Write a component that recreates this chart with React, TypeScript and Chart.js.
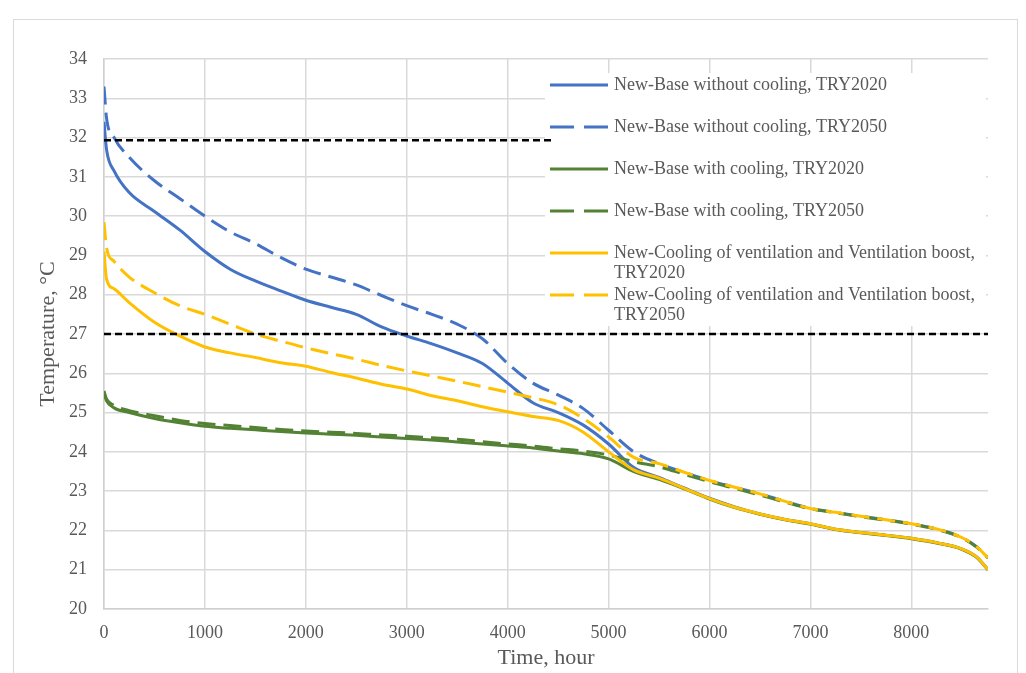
import React, { useEffect, useRef } from "react";
import { Chart, registerables } from "chart.js";

Chart.register(...registerables);

// ---- Data ----
const hours = [0, 25, 100, 250, 500, 750, 1000, 1250, 1500, 1750, 2000, 2250, 2500, 2750, 3000, 3250, 3500, 3750, 4000, 4250, 4500, 4750, 5000, 5250, 5500, 5750, 6000, 6250, 6500, 6750, 7000, 7250, 7500, 7750, 8000, 8250, 8500, 8650, 8760];

const baseNoCooling2020 = [32.4, 31.7, 31.15, 30.6, 30.12, 29.65, 29.1, 28.65, 28.35, 28.1, 27.86, 27.68, 27.5, 27.18, 26.95, 26.75, 26.52, 26.25, 25.75, 25.25, 25.0, 24.68, 24.2, 23.6, 23.35, 23.08, 22.82, 22.6, 22.42, 22.28, 22.17, 22.03, 21.95, 21.88, 21.8, 21.69, 21.53, 21.32, 21.0];
const baseNoCooling2050 = [33.3, 32.5, 32.0, 31.5, 30.9, 30.45, 30.0, 29.6, 29.3, 28.95, 28.65, 28.45, 28.25, 27.98, 27.72, 27.5, 27.25, 26.88, 26.25, 25.75, 25.45, 25.1, 24.55, 24.0, 23.7, 23.48, 23.27, 23.1, 22.93, 22.74, 22.56, 22.46, 22.36, 22.27, 22.17, 22.04, 21.82, 21.58, 21.3];
const baseCooling2020 = [25.5, 25.3, 25.12, 25.0, 24.85, 24.74, 24.65, 24.6, 24.56, 24.52, 24.48, 24.45, 24.42, 24.38, 24.34, 24.3, 24.25, 24.2, 24.15, 24.1, 24.02, 23.95, 23.82, 23.5, 23.3, 23.06, 22.8, 22.58, 22.41, 22.27, 22.16, 22.02, 21.94, 21.87, 21.79, 21.68, 21.52, 21.31, 21.0];
const baseCooling2050 = [25.55, 25.35, 25.18, 25.05, 24.92, 24.8, 24.72, 24.67, 24.62, 24.57, 24.53, 24.5, 24.47, 24.43, 24.4, 24.36, 24.32, 24.26, 24.2, 24.15, 24.08, 24.02, 23.92, 23.75, 23.62, 23.43, 23.24, 23.07, 22.9, 22.72, 22.55, 22.45, 22.35, 22.26, 22.16, 22.03, 21.81, 21.57, 21.3];
const ventBoost2020 = [29.1, 28.4, 28.15, 27.8, 27.3, 26.95, 26.67, 26.52, 26.4, 26.27, 26.18, 26.02, 25.88, 25.72, 25.6, 25.43, 25.3, 25.15, 25.02, 24.9, 24.8, 24.5, 24.0, 23.54, 23.33, 23.07, 22.81, 22.59, 22.42, 22.28, 22.17, 22.03, 21.95, 21.88, 21.8, 21.69, 21.53, 21.32, 21.0];
const ventBoost2050 = [29.85, 29.2, 28.85, 28.45, 28.05, 27.72, 27.5, 27.25, 27.0, 26.82, 26.65, 26.5, 26.36, 26.2, 26.06, 25.93, 25.8, 25.66, 25.52, 25.38, 25.2, 24.85, 24.38, 23.86, 23.7, 23.48, 23.27, 23.1, 22.93, 22.74, 22.56, 22.46, 22.36, 22.27, 22.17, 22.04, 21.82, 21.58, 21.3];

const limitHighHours = [0, 4450];
const limitHighTemp = [31.93, 31.93];
const limitLowHours = [0, 8760];
const limitLowTemp = [27, 27];

const seriesLabels = [
  "New-Base without cooling, TRY2020",
  "New-Base without cooling, TRY2050",
  "New-Base with cooling, TRY2020",
  "New-Base with cooling, TRY2050",
  "New-Cooling of ventilation and Ventilation boost, TRY2020",
  "New-Cooling of ventilation and Ventilation boost, TRY2050",
];

const xTicks = [0, 1000, 2000, 3000, 4000, 5000, 6000, 7000, 8000];
const yTicks = [20, 21, 22, 23, 24, 25, 26, 27, 28, 29, 30, 31, 32, 33, 34];
const xMin = 0;
const xMax = 8760;
const yMin = 20;
const yMax = 34;

const xTitle = "Time, hour";
const yTitle = "Temperature, °C";

// ---- Styles ----
const FONT = '"Liberation Serif", "Times New Roman", serif';
const TEXT = "#595959";
const GRID = "#d9d9d9";
const BLUE = "#4472C4";
const GREEN = "#548235";
const YELLOW = "#FFC000";
const DASH = [18, 8];
const LW = 3;

const toPoints = (xs: number[], ys: number[]) => xs.map((x, i) => ({ x, y: ys[i] }));

const seriesValues = [baseNoCooling2020, baseNoCooling2050, baseCooling2020, baseCooling2050, ventBoost2020, ventBoost2050];
const seriesColors = [BLUE, BLUE, GREEN, GREEN, YELLOW, YELLOW];
const seriesDashed = [false, true, false, true, false, true];
const seriesOrder = [4, 4, 3, 3, 2, 2];

const framePlugin = {
  id: "frame",
  beforeDraw(chart: any) {
    const ctx = chart.ctx;
    ctx.save();
    ctx.fillStyle = "#ffffff";
    ctx.fillRect(0, 0, chart.width, chart.height);
    ctx.strokeStyle = "#d9d9d9";
    ctx.lineWidth = 1;
    ctx.strokeRect(13.5, 19.5, 1004, 700);
    ctx.restore();
  },
};

const legendPlugin = {
  id: "customLegend",
  beforeDatasetsDraw(chart: any) {
    const ctx = chart.ctx;
    ctx.save();
    ctx.fillStyle = "#ffffff";
    ctx.fillRect(545, 73, 441, 253);
    ctx.font = `18px ${FONT}`;
    ctx.textBaseline = "middle";
    ctx.textAlign = "left";
    const maxW = 380;
    seriesLabels.forEach((label, i) => {
      const y = 85 + i * 42;
      ctx.strokeStyle = seriesColors[i];
      ctx.lineWidth = LW;
      ctx.setLineDash(seriesDashed[i] ? [24, 10] : []);
      ctx.beginPath();
      ctx.moveTo(550, y);
      ctx.lineTo(608, y);
      ctx.stroke();
      ctx.setLineDash([]);
      const words = label.split(" ");
      const lines: string[] = [];
      let cur = "";
      words.forEach((w) => {
        const test = cur ? cur + " " + w : w;
        if (ctx.measureText(test).width > maxW && cur) {
          lines.push(cur);
          cur = w;
        } else cur = test;
      });
      if (cur) lines.push(cur);
      ctx.fillStyle = TEXT;
      lines.forEach((ln, j) => ctx.fillText(ln, 614, y + j * 20));
    });
    ctx.restore();
  },
};

export default function App() {
  const ref = useRef<HTMLCanvasElement>(null);
  useEffect(() => {
    if (!ref.current) return;
    const datasets: any[] = seriesValues.map((vals, i) => ({
      label: seriesLabels[i],
      data: toPoints(hours, vals),
      borderColor: seriesColors[i],
      backgroundColor: seriesColors[i],
      borderWidth: LW,
      borderDash: seriesDashed[i] ? DASH : [],
      pointRadius: 0,
      cubicInterpolationMode: "monotone",
      fill: false,
      order: seriesOrder[i],
    }));
    datasets.push({
      label: "limit-high",
      data: toPoints(limitHighHours, limitHighTemp),
      borderColor: "#000",
      borderWidth: 2.5,
      borderDash: [7, 4],
      pointRadius: 0,
      fill: false,
      order: 0,
    });
    datasets.push({
      label: "limit-low",
      data: toPoints(limitLowHours, limitLowTemp),
      borderColor: "#000",
      borderWidth: 2.5,
      borderDash: [7, 4],
      pointRadius: 0,
      fill: false,
      order: 0,
    });

    const chart = new Chart(ref.current, {
      type: "line",
      data: { datasets },
      plugins: [framePlugin, legendPlugin],
      options: {
        animation: false,
        responsive: false,
        maintainAspectRatio: false,
        devicePixelRatio: 1,
        layout: { padding: { left: 0, top: 59, right: 38, bottom: 0 } },
        plugins: { legend: { display: false }, tooltip: { enabled: false }, title: { display: false } },
        scales: {
          x: {
            type: "linear",
            min: xMin,
            max: xMax,
            afterBuildTicks: (scale: any) => {
              scale.ticks = xTicks.map((v) => ({ value: v }));
            },
            afterFit: (scale: any) => {
              scale.height = 64;
            },
            ticks: {
              color: TEXT,
              font: { family: FONT, size: 18 },
              padding: 13,
              maxRotation: 0,
              autoSkip: false,
              callback: (v: any) => String(v),
            },
            grid: { color: GRID, lineWidth: 1.5, drawTicks: false },
            border: { color: "#d0d0d0", width: 1.5 },
            title: {
              display: true,
              text: xTitle,
              color: TEXT,
              font: { family: FONT, size: 22 },
              padding: { top: 0, bottom: 2 },
            },
          },
          y: {
            type: "linear",
            min: yMin,
            max: yMax,
            afterBuildTicks: (scale: any) => {
              scale.ticks = yTicks.map((v) => ({ value: v }));
            },
            afterFit: (scale: any) => {
              scale.width = 104;
            },
            ticks: {
              color: TEXT,
              font: { family: FONT, size: 18 },
              padding: 17,
              autoSkip: false,
              callback: (v: any) => String(v),
            },
            grid: { color: GRID, lineWidth: 1.5, drawTicks: false },
            border: { color: "#d0d0d0", width: 1.5 },
            title: {
              display: true,
              text: yTitle,
              color: TEXT,
              font: { family: FONT, size: 22 },
              padding: { top: 35, bottom: 0 },
            },
          },
        },
      } as any,
    });
    return () => chart.destroy();
  }, []);

  return (
    <div style={{ position: "fixed", left: 0, top: 0, width: 1026, height: 673, background: "#fff" }}>
      <canvas ref={ref} width={1026} height={673} style={{ width: 1026, height: 673, display: "block" }} />
    </div>
  );
}
